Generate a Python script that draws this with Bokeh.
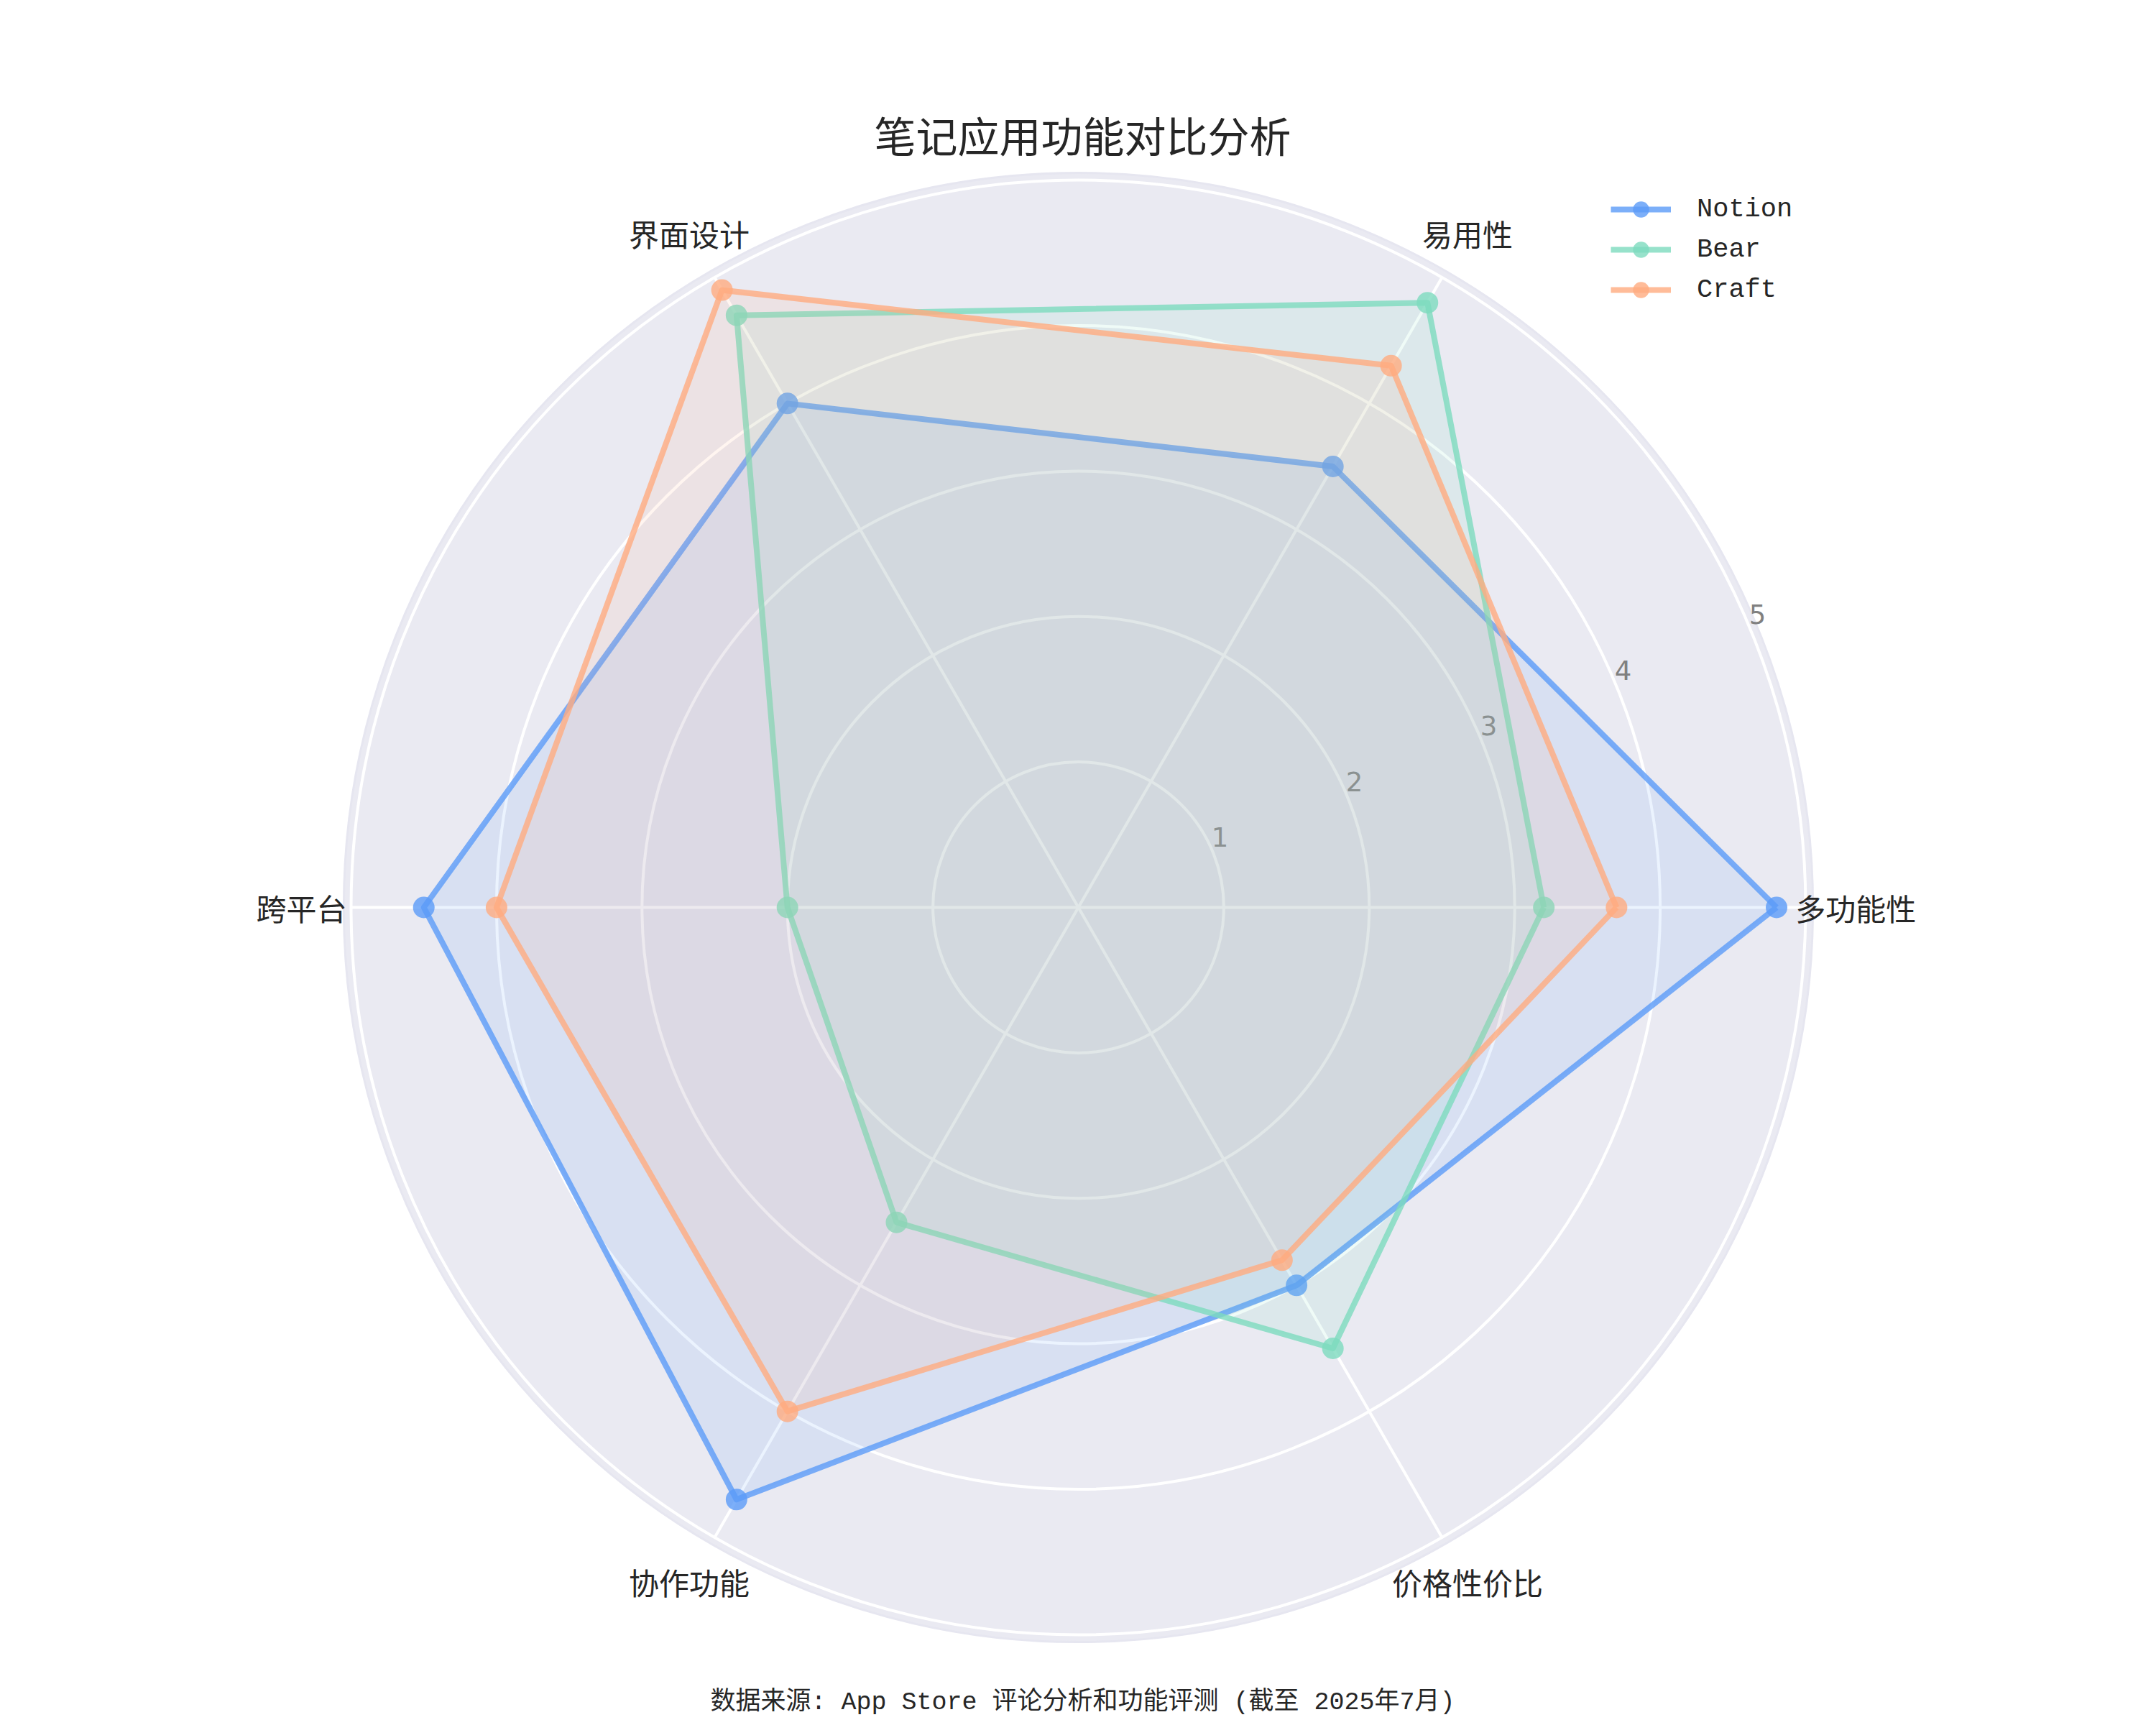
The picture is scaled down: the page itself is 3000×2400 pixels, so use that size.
import numpy as np
from bokeh.plotting import figure
from bokeh.models import Range1d, Legend, LegendItem
from bokeh.core.properties import value
from bokeh.embed import file_html
from bokeh.resources import INLINE

# data
categories = ["多功能性", "易用性", "界面设计", "跨平台", "协作功能", "价格性价比"]
notion = [4.8, 3.5, 4.0, 4.5, 4.7, 3.0]
bear = [3.2, 4.8, 4.7, 2.0, 2.5, 3.5]
craft = [3.7, 4.3, 4.9, 4.0, 4.0, 2.8]
series_names = ["Notion", "Bear", "Craft"]
series_colors = ["#5B9BF8", "#7DDBBE", "#FFAB80"]
ring_ticks = [1, 2, 3, 4, 5]
r_max = 5

title_text = "笔记应用功能对比分析"
note_text = "数据来源: App Store 评论分析和功能评测 (截至 2025年7月)"

# layout (pixels)
W, H = 2992, 2392
CX, CY = 1500, 1262   # centre of the radar in figure pixels
U = 202.4             # pixels per score unit

CJK = "Noto Sans CJK SC"
MONO = "Liberation Mono, Noto Sans CJK SC"

p = figure(width=W, height=H, output_backend="svg", toolbar_location=None,
           x_axis_type=None, y_axis_type=None, min_border=0,
           x_range=Range1d(-CX / U, (W - CX) / U),
           y_range=Range1d(-(H - CY) / U, CY / U))
p.outline_line_color = None
p.grid.visible = False
p.background_fill_color = "white"

angles = np.arange(len(categories)) * 2 * np.pi / len(categories)

# polar background and grid
p.circle(x=[0], y=[0], radius=r_max + 0.05, fill_color="#eaeaf2",
         line_color="#e6e6f0", line_width=3)
p.circle(x=[0] * len(ring_ticks), y=[0] * len(ring_ticks), radius=ring_ticks,
         fill_color=None, line_color="white", line_width=4)
p.segment(x0=[0] * len(angles), y0=[0] * len(angles),
          x1=list(r_max * np.cos(angles)), y1=list(r_max * np.sin(angles)),
          line_color="white", line_width=4)

# radial tick labels along 22.5 deg
tick_ang = np.deg2rad(22.5)
p.text(x=[r * np.cos(tick_ang) + 0.05 for r in ring_ticks],
       y=[r * np.sin(tick_ang) + 0.1 for r in ring_ticks],
       text=[str(r) for r in ring_ticks], text_font=value("DejaVu Sans"),
       text_font_size="37px", text_color="#808080",
       text_align="center", text_baseline="middle")

# category labels
lx, ly, la = [], [], []
for a in angles:
    c = np.cos(a)
    if c > 0.9:
        r, al = 4.93, "left"
    elif c < -0.9:
        r, al = 5.03, "right"
    else:
        r, al = 5.35, "center"
    lx.append(r * np.cos(a))
    ly.append(r * np.sin(a))
    la.append(al)
p.text(x=lx, y=ly, text=categories, text_align=la, text_baseline="middle",
       text_font=value(CJK), text_font_size="42px", text_color="#262626")

# series
items = []
for name, vals, col in zip(series_names, [notion, bear, craft], series_colors):
    v = np.array(vals + vals[:1])
    a = np.append(angles, angles[0])
    xs = v * np.cos(a)
    ys = v * np.sin(a)
    p.patch(x=xs, y=ys, fill_color=col, fill_alpha=0.12, line_color=None)
    ln = p.line(x=xs, y=ys, line_color=col, line_width=8, line_alpha=0.8,
                line_join="round")
    mk = p.scatter(x=xs[:-1], y=ys[:-1], size=30, fill_color=col, fill_alpha=0.8,
                   line_color=None)
    items.append(LegendItem(label=name, renderers=[ln, mk]))

legend = Legend(items=items, location=(2241, H - 431), orientation="vertical",
                glyph_width=84, glyph_height=56, label_height=56, spacing=0,
                padding=0, margin=0, label_standoff=36,
                label_text_font=MONO, label_text_font_size="37px",
                label_text_color="#262626",
                border_line_alpha=0, background_fill_alpha=0)
p.add_layout(legend, "center")

# title and note
p.text(x=[0.03], y=[1076 / U], text=[title_text], text_align="center",
       text_baseline="middle", text_font=value(CJK), text_font_size="58px",
       text_color="#262626")
p.text(x=[0.03], y=[-1106 / U], text=[note_text], text_align="center",
       text_baseline="middle", text_font=value(MONO), text_font_size="35px",
       text_color="#262626")

open("out.html", "w").write(file_html(p, INLINE))
